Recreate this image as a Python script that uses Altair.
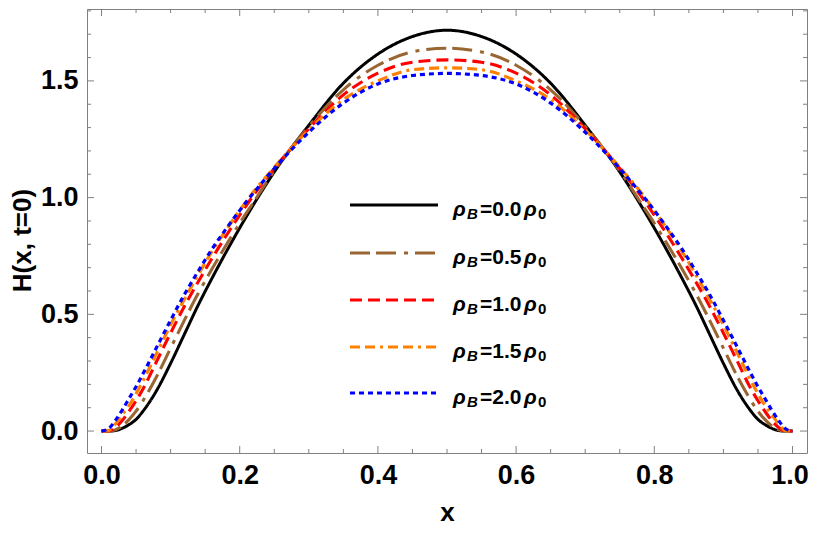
import altair as alt
import pandas as pd

# ---------------- data ----------------
x_vals = [0.00, 0.01, 0.02, 0.03, 0.04, 0.05, 0.06, 0.08, 0.10, 0.12, 0.14,
          0.16, 0.18, 0.20, 0.22, 0.25, 0.30, 0.35, 0.40, 0.45, 0.50,
          0.55, 0.60, 0.65, 0.70, 0.75, 0.78, 0.80, 0.82, 0.84, 0.86,
          0.88, 0.90, 0.92, 0.94, 0.95, 0.96, 0.97, 0.98, 0.99, 1.00]

h_rho00 = [0, 0, 0.002, 0.012, 0.028, 0.05, 0.085, 0.175, 0.29, 0.415, 0.54,
           0.655, 0.765, 0.87, 0.97, 1.11, 1.31, 1.49, 1.615, 1.69, 1.717,
           1.69, 1.615, 1.49, 1.31, 1.11, 0.97, 0.87, 0.765, 0.655, 0.54,
           0.415, 0.29, 0.175, 0.085, 0.05, 0.028, 0.012, 0.002, 0, 0]
h_rho05 = [0, 0, 0.005, 0.022, 0.05, 0.085, 0.13, 0.235, 0.355, 0.475, 0.59,
           0.695, 0.795, 0.89, 0.98, 1.115, 1.305, 1.462, 1.567, 1.624, 1.640,
           1.624, 1.567, 1.462, 1.305, 1.115, 0.98, 0.89, 0.795, 0.695, 0.59,
           0.475, 0.355, 0.235, 0.13, 0.085, 0.05, 0.022, 0.005, 0, 0]
h_rho10 = [0, 0, 0.015, 0.045, 0.085, 0.13, 0.18, 0.30, 0.42, 0.535, 0.64,
           0.74, 0.835, 0.925, 1.01, 1.125, 1.295, 1.44, 1.533, 1.58, 1.59,
           1.58, 1.533, 1.44, 1.295, 1.125, 1.01, 0.925, 0.835, 0.74, 0.64,
           0.535, 0.42, 0.30, 0.18, 0.13, 0.085, 0.045, 0.015, 0, 0]
h_rho15 = [0, 0.002, 0.03, 0.07, 0.11, 0.16, 0.215, 0.335, 0.455, 0.565, 0.67,
           0.77, 0.86, 0.945, 1.025, 1.13, 1.29, 1.42, 1.50, 1.548, 1.556,
           1.548, 1.50, 1.42, 1.29, 1.13, 1.025, 0.945, 0.86, 0.77, 0.67,
           0.565, 0.455, 0.335, 0.215, 0.16, 0.11, 0.07, 0.03, 0.002, 0]
h_rho20 = [0, 0.01, 0.045, 0.09, 0.14, 0.19, 0.245, 0.36, 0.475, 0.585, 0.685,
           0.78, 0.865, 0.945, 1.02, 1.125, 1.28, 1.405, 1.487, 1.523, 1.532,
           1.523, 1.487, 1.405, 1.28, 1.125, 1.02, 0.945, 0.865, 0.78, 0.685,
           0.585, 0.475, 0.36, 0.245, 0.19, 0.14, 0.09, 0.045, 0.01, 0]

series_labels = ["0.0", "0.5", "1.0", "1.5", "2.0"]
series_values = [h_rho00, h_rho05, h_rho10, h_rho15, h_rho20]

x_major = [0.0, 0.2, 0.4, 0.6, 0.8, 1.0]
x_minor = [0.05, 0.1, 0.15, 0.25, 0.3, 0.35, 0.45, 0.5, 0.55, 0.65, 0.7,
           0.75, 0.85, 0.9, 0.95]
y_major = [0.0, 0.5, 1.0, 1.5]
y_minor = [0.1, 0.2, 0.3, 0.4, 0.6, 0.7, 0.8, 0.9, 1.1, 1.2, 1.3, 1.4,
           1.6, 1.7, 1.8]

# ---------------- styles ----------------
colors = ["#000000", "#996633", "#FF0000", "#FF8000", "#0000FF"]
dashes = [[1, 0], [20, 6, 20, 8, 4, 7], [12, 6], [10, 5, 10, 5, 3, 5], [5, 4]]
widths = [3, 3.2, 3.2, 3.2, 4]
FONT = "Liberation Sans"
FRAME = "#808080"
W, H = 720, 444

df = pd.DataFrame(
    [{"x": x, "H": h, "series": s}
     for s, hs in zip(series_labels, series_values)
     for x, h in zip(x_vals, hs)]
)

xs = alt.Scale(domain=[-0.021, 1.021], nice=False, zero=False)
ys = alt.Scale(domain=[-0.094, 1.808], nice=False, zero=False)
col_scale = alt.Scale(domain=series_labels, range=colors)
dash_scale = alt.Scale(domain=series_labels, range=dashes)
width_scale = alt.Scale(domain=series_labels, range=widths)

axis_common = dict(
    format=".1f", ticks=False, domain=False, grid=False,
    labelFont=FONT, labelFontWeight="bold", labelFontSize=27, labelColor="black",
    titleFont=FONT, titleFontWeight="bold", titleFontSize=26, titleColor="black",
)

lines = alt.Chart(df).mark_line(interpolate="monotone", strokeCap="butt").encode(
    x=alt.X("x:Q", scale=xs,
            axis=alt.Axis(values=x_major, title="x", labelPadding=9,
                          titlePadding=11,
                          labelOffset={"condition": {"test": "datum.value >= 1",
                                                     "value": -3},
                                       "value": 0},
                          **axis_common)),
    y=alt.Y("H:Q", scale=ys,
            axis=alt.Axis(values=y_major, title="H(x, t=0)", labelPadding=9,
                          titlePadding=5, titleY=231, **axis_common)),
    color=alt.Color("series:N", scale=col_scale, legend=None),
    strokeDash=alt.StrokeDash("series:N", scale=dash_scale, legend=None),
    strokeWidth=alt.StrokeWidth("series:N", scale=width_scale, legend=None),
)


def x_ticks(vals, length, top):
    d = pd.DataFrame({"x": vals})
    y0 = 0 if top else H
    y1 = length if top else H - length
    return alt.Chart(d).mark_rule(color=FRAME, strokeWidth=1).encode(
        x=alt.X("x:Q", scale=xs), y=alt.value(y0), y2=alt.value(y1))


def y_ticks(vals, length, right):
    d = pd.DataFrame({"H": vals})
    x0 = W if right else 0
    x1 = W - length if right else length
    return alt.Chart(d).mark_rule(color=FRAME, strokeWidth=1).encode(
        y=alt.Y("H:Q", scale=ys), x=alt.value(x0), x2=alt.value(x1))


ticks = [
    x_ticks(x_major, 7, False), x_ticks(x_minor, 4, False),
    x_ticks(x_major, 7, True), x_ticks(x_minor, 4, True),
    y_ticks(y_major, 7, False), y_ticks(y_minor, 4, False),
    y_ticks(y_major, 7, True), y_ticks(y_minor, 4, True),
]

# ---------------- legend (inside the frame) ----------------
row_y = [196, 244, 291, 338, 384]
legend_layers = []
for s, yy in zip(series_labels, row_y):
    d = pd.DataFrame({"series": [s], "eq": ["=" + s]})
    base = alt.Chart(d)
    legend_layers.append(
        base.mark_rule(strokeCap="butt").encode(
            x=alt.value(263), x2=alt.value(351), y=alt.value(yy),
            color=alt.Color("series:N", scale=col_scale, legend=None),
            strokeDash=alt.StrokeDash("series:N", scale=dash_scale, legend=None),
            strokeWidth=alt.StrokeWidth("series:N", scale=width_scale, legend=None),
        )
    )
    txt = dict(font=FONT, fontWeight="bold", align="left", baseline="alphabetic",
               color="black")
    legend_layers.append(
        base.mark_text(text="ρ", fontSize=21, fontStyle="italic", **txt).encode(
            x=alt.value(366), y=alt.value(yy + 11)))
    legend_layers.append(
        base.mark_text(text="B", fontSize=15, fontStyle="italic", **txt).encode(
            x=alt.value(380), y=alt.value(yy + 14)))
    legend_layers.append(
        base.mark_text(fontSize=21, **txt).encode(
            x=alt.value(393), y=alt.value(yy + 11), text="eq:N"))
    legend_layers.append(
        base.mark_text(text="ρ", fontSize=21, fontStyle="italic", **txt).encode(
            x=alt.value(437), y=alt.value(yy + 11)))
    legend_layers.append(
        base.mark_text(text="0", fontSize=15, **txt).encode(
            x=alt.value(451), y=alt.value(yy + 14)))

chart = alt.layer(lines, *ticks, *legend_layers).properties(
    width=W, height=H,
    padding={"left": 79, "top": 1, "right": 2, "bottom": 74},
    autosize=alt.AutoSizeParams(type="none"),
).configure_view(stroke=FRAME, strokeWidth=1)

chart.save("out.html", embed_options={"renderer": "svg", "actions": False})
